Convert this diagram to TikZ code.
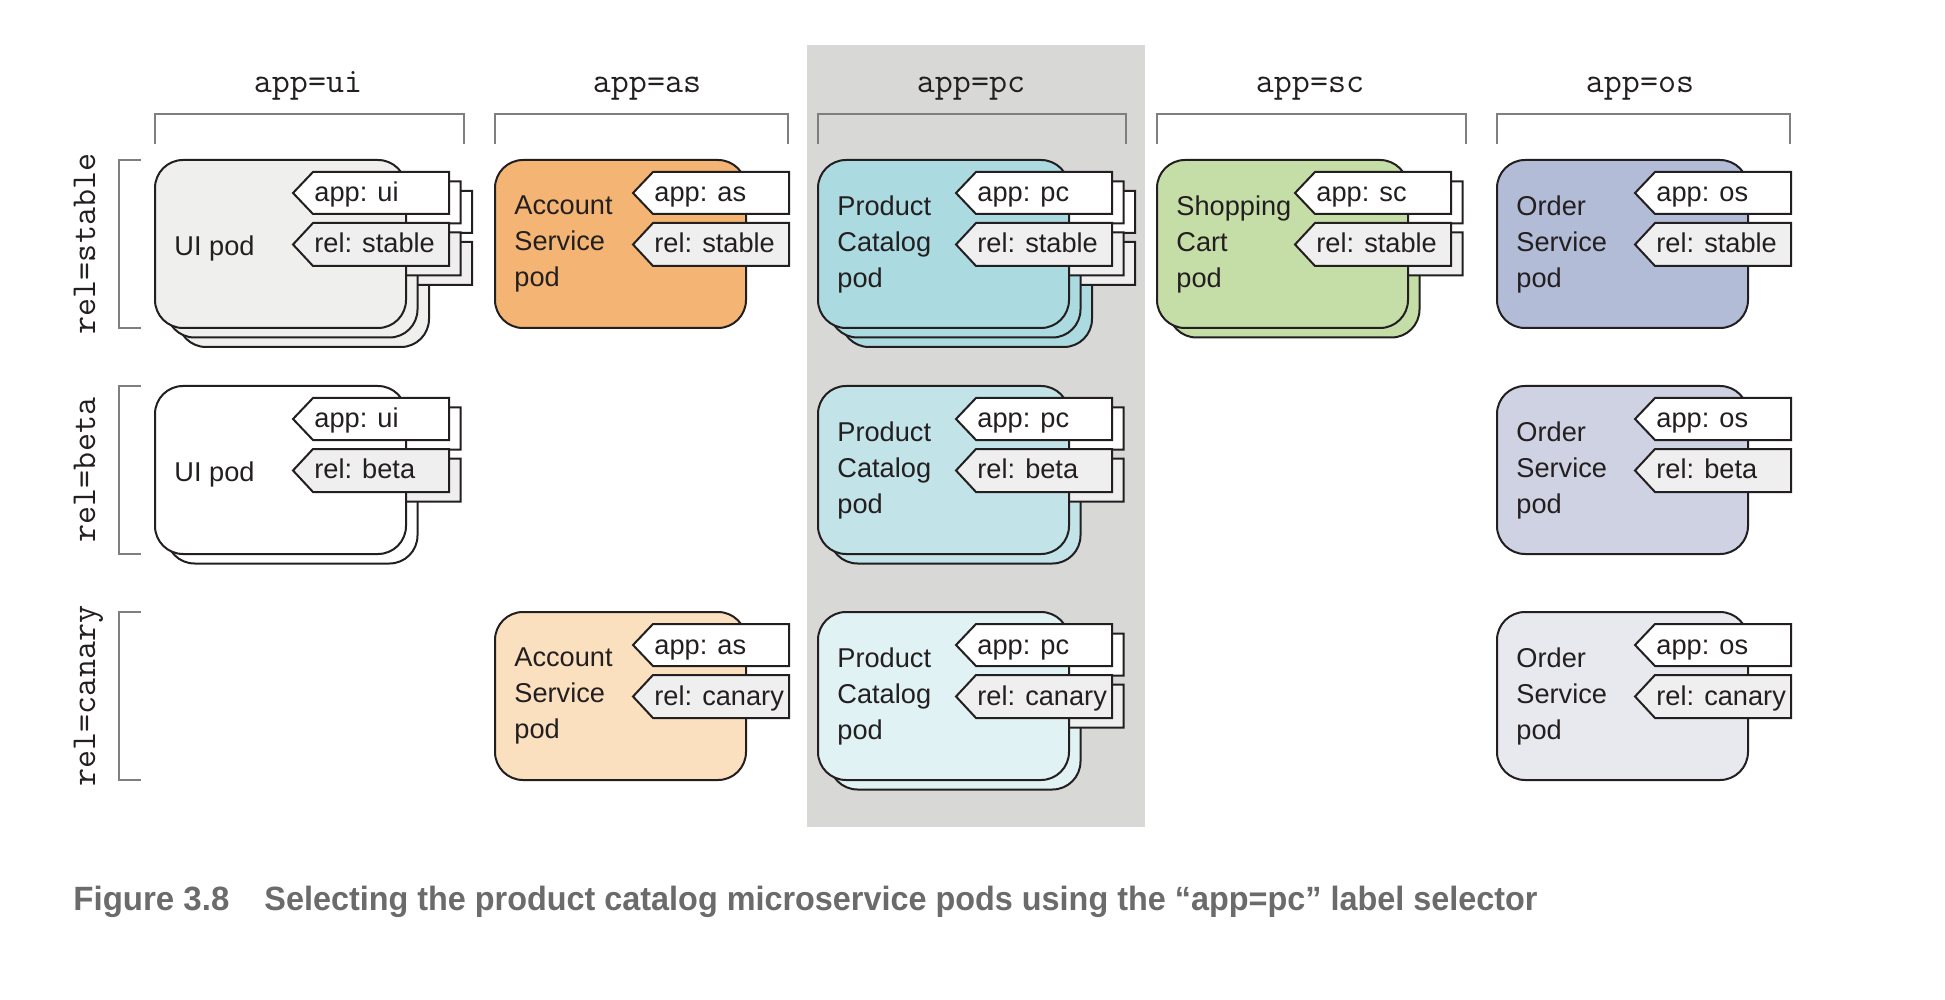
\documentclass[tikz,border=0pt]{standalone}
\usepackage{fontspec}
\usepackage{graphicx}
\setmainfont{Liberation Sans}
\usetikzlibrary{calc}

\definecolor{ink}{HTML}{231F20}
\definecolor{hl}{HTML}{D8D8D6}
\definecolor{brk}{HTML}{7F7F7F}
\definecolor{relfill}{HTML}{EFEFEF}
\definecolor{capgray}{HTML}{6B6B6B}
\definecolor{uis}{HTML}{EFEFEE}
\definecolor{ass}{HTML}{F4B574}
\definecolor{asc}{HTML}{FBE0BF}
\definecolor{pcs}{HTML}{ABDAE0}
\definecolor{pcb}{HTML}{C2E3E8}
\definecolor{pcc}{HTML}{E0F2F3}
\definecolor{scs}{HTML}{C5DEA7}
\definecolor{oss}{HTML}{B3BCD6}
\definecolor{osb}{HTML}{CED2E2}
\definecolor{osc}{HTML}{E7E9EF}

\tikzset{
  podline/.style={draw=ink, line width=1pt},
  brkline/.style={draw=brk, line width=1pt},
  tagtxt/.style={anchor=base west, inner sep=0pt, text=ink, font=\fontsize{13.6}{16}\selectfont},
  podtxt/.style={anchor=west, inner sep=0pt, align=left, text=ink, font=\fontsize{13.6}{18}\selectfont},
  hdr/.style={anchor=base, inner sep=0pt, text=ink, font=\ttfamily\fontsize{17.5}{20}\selectfont},
  captxt/.style={anchor=base west, inner sep=0pt, text=capgray, font=\bfseries\fontsize{14}{16}\selectfont}
}

% pod body: x y fill
\newcommand\podshape[3]{%
  \draw[podline, fill=#3, rounded corners=14pt] (#1,#2) rectangle ({#1+251},{#2+168});
}
% tag: x(pod left) ytop fill height
\newcommand\tagshape[4]{%
  \draw[podline, fill=#3] ({#1+158},{#2}) -- ({#1+294},{#2}) -- ({#1+294},{#2+#4})
     -- ({#1+158},{#2+#4}) -- ({#1+138},{#2+#4/2}) -- cycle;
}
\newcommand\podlayer[3]{%
  \podshape{#1}{#2}{#3}%
  \tagshape{#1}{#2+12}{white}{42}%
  \tagshape{#1}{#2+63}{relfill}{43}%
}
% name x y fill copies app rel podtext yoff
\newcommand\podgroup[9]{%
  \ifnum#5>2 \podlayer{#2+23}{#3+19}{#4}\fi
  \ifnum#5>1 \podlayer{#2+11.5}{#3+9.5}{#4}\fi
  \podlayer{#2}{#3}{#4}%
  \node[tagtxt] (#1-app) at ({#2+159},{#3+42}) {#6};
  \node[tagtxt] (#1-rel) at ({#2+159},{#3+93}) {#7};
  \node[podtxt] (#1-txt) at ({#2+19},{#3+#9}) {#8};
}

\begin{document}
\begin{tikzpicture}[x=0.5pt,y=-0.5pt]
\useasboundingbox (0,0) rectangle (1945,1000);
\fill[hl] (807,45) rectangle (1145,827);

% column brackets and headers
\foreach \n/\a/\b/\c/\t in {ui/155/464/308/app=ui, as/495/788/647/app=as, pc/818/1126/971/app=pc, sc/1157/1466/1310/app=sc, os/1497/1790/1640/app=os}{
  \draw[brkline] (\a,144) -- (\a,114) -- (\b,114) -- (\b,144);
  \node[hdr] (h-\n) at (\c,93) {\t};
}

% row brackets and labels
\foreach \n/\a/\b/\t in {s/160/328/rel=stable, b/386/554/rel=beta, c/612/780/rel=canary}{
  \draw[brkline] (141,\a) -- (119,\a) -- (119,\b) -- (141,\b);
  \node[hdr, rotate=90] (r-\n) at (95,{(\a+\b)/2}) {\t};
}

% stable row
\podgroup{uis}{155}{160}{uis}{3}{app: ui}{rel: stable}{UI pod}{88}
\podgroup{ass}{495}{160}{ass}{1}{app: as}{rel: stable}{Account\\Service\\pod}{84}
\podgroup{pcs}{818}{160}{pcs}{3}{app: pc}{rel: stable}{Product\\Catalog\\pod}{84}
\podgroup{scs}{1157}{160}{scs}{2}{app: sc}{rel: stable}{Shopping\\Cart\\pod}{84}
\podgroup{oss}{1497}{160}{oss}{1}{app: os}{rel: stable}{Order\\Service\\pod}{84}
% beta row
\podgroup{uib}{155}{386}{white}{2}{app: ui}{rel: beta}{UI pod}{88}
\podgroup{pcb}{818}{386}{pcb}{2}{app: pc}{rel: beta}{Product\\Catalog\\pod}{84}
\podgroup{osb}{1497}{386}{osb}{1}{app: os}{rel: beta}{Order\\Service\\pod}{84}
% canary row
\podgroup{asc}{495}{612}{asc}{1}{app: as}{rel: canary}{Account\\Service\\pod}{84}
\podgroup{pcc}{818}{612}{pcc}{2}{app: pc}{rel: canary}{Product\\Catalog\\pod}{84}
\podgroup{osc}{1497}{612}{osc}{1}{app: os}{rel: canary}{Order\\Service\\pod}{84}

% caption
\node[captxt] (fig) at (73,910) {\resizebox{78pt}{12.2pt}{Figure 3.8}};
\node[captxt] (figtext) at (264,910) {\resizebox{636.5pt}{12.2pt}{Selecting the product catalog microservice pods using the “app=pc” label selector}};
\end{tikzpicture}
\end{document}
